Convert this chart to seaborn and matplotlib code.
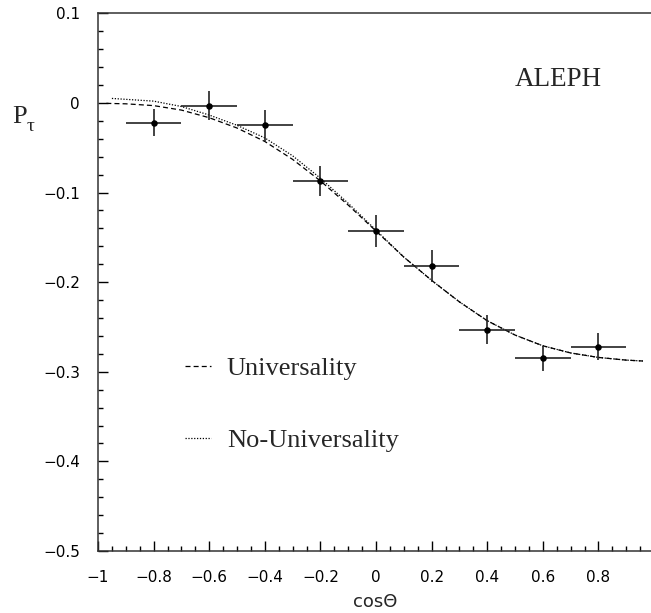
import numpy as np
import pandas as pd
import matplotlib
matplotlib.use("Agg")
import matplotlib.pyplot as plt
import seaborn as sns
from matplotlib.ticker import FixedLocator, MultipleLocator, FixedFormatter

# ---- data ----
cos_bins = [-0.8, -0.6, -0.4, -0.2, 0.0, 0.2, 0.4, 0.6, 0.8]
p_tau = [-0.022, -0.003, -0.025, -0.087, -0.143, -0.182, -0.253, -0.285, -0.272]
p_err = [0.015, 0.016, 0.017, 0.017, 0.018, 0.018, 0.016, 0.014, 0.015]
x_halfwidth = [0.1] * 9

univ_x = [-0.97, -0.9, -0.8, -0.7, -0.6, -0.5, -0.4, -0.3, -0.2, -0.1, 0.0,
          0.1, 0.2, 0.3, 0.4, 0.5, 0.6, 0.7, 0.8, 0.9, 0.96]
univ_y = [-0.0005, -0.001, -0.003, -0.008, -0.0165, -0.028, -0.043, -0.063,
          -0.087, -0.114, -0.143, -0.172, -0.198, -0.222, -0.243, -0.259,
          -0.271, -0.279, -0.284, -0.287, -0.288]
nouniv_x = [-0.95, -0.9, -0.8, -0.7, -0.6, -0.5, -0.4, -0.3, -0.2, -0.1, 0.0,
            0.1, 0.2, 0.3, 0.4, 0.5, 0.6, 0.7, 0.8, 0.9, 0.96]
nouniv_y = [0.005, 0.004, 0.002, -0.004, -0.0135, -0.025, -0.039, -0.059,
            -0.084, -0.112, -0.142, -0.172, -0.198, -0.222, -0.243, -0.259,
            -0.271, -0.279, -0.284, -0.287, -0.288]

x_ticks = [-1, -0.8, -0.6, -0.4, -0.2, 0, 0.2, 0.4, 0.6, 0.8]
x_ticklabels = ["\u22121", "\u22120.8", "\u22120.6", "\u22120.4", "\u22120.2",
                "0", "0.2", "0.4", "0.6", "0.8"]
y_ticks = [-0.5, -0.4, -0.3, -0.2, -0.1, 0, 0.1]
y_ticklabels = ["\u22120.5", "\u22120.4", "\u22120.3", "\u22120.2", "\u22120.1",
                "0", "0.1"]

# ---- style ----
sns.set_style("ticks")
plt.rcParams["font.family"] = ["DejaVu Sans"]

fig = plt.figure(figsize=(6.51, 6.13), dpi=100)
ax = fig.add_axes([98 / 651, 62 / 613, 556 / 651, 537.7 / 613])

curves = pd.concat([
    pd.DataFrame({"x": univ_x, "y": univ_y, "model": "Universality"}),
    pd.DataFrame({"x": nouniv_x, "y": nouniv_y, "model": "No-Universality"}),
])
sns.lineplot(data=curves[curves.model == "Universality"], x="x", y="y",
             color="black", lw=0.9, ax=ax, label="Universality",
             linestyle=(0, (4, 2.5)), sort=False)
sns.lineplot(data=curves[curves.model == "No-Universality"], x="x", y="y",
             color="black", lw=0.9, ax=ax, label="No-Universality",
             linestyle=(0, (1, 1.3)), sort=False)

ax.errorbar(cos_bins, p_tau, xerr=x_halfwidth, yerr=p_err, fmt="none",
            ecolor="#222222", elinewidth=1.2, capsize=0, zorder=3)
sns.scatterplot(x=cos_bins, y=p_tau, color="black", s=22, edgecolor="black",
                linewidth=0, ax=ax, zorder=4)

ax.set_xlim(-1, 1)
ax.set_ylim(-0.5, 0.1)

ax.xaxis.set_major_locator(FixedLocator(x_ticks))
ax.xaxis.set_major_formatter(FixedFormatter(x_ticklabels))
ax.xaxis.set_minor_locator(MultipleLocator(0.05))
ax.yaxis.set_major_locator(FixedLocator(y_ticks))
ax.yaxis.set_major_formatter(FixedFormatter(y_ticklabels))
ax.yaxis.set_minor_locator(MultipleLocator(0.02))

ax.tick_params(which="both", direction="in", top=False, right=False,
               colors="black", width=1.0)
ax.tick_params(which="major", length=7, labelsize=11)
ax.tick_params(axis="x", which="major", pad=14)
ax.tick_params(axis="y", which="major", pad=13)
ax.tick_params(which="minor", length=3.6)

for side in ["left", "bottom", "top", "right"]:
    ax.spines[side].set_visible(True)
    ax.spines[side].set_color("#333333")
    ax.spines[side].set_linewidth(1.1)

ax.set_xlabel("cos\u0398", fontsize=13)
ax.xaxis.set_label_coords(0.499, -0.078)
ax.set_ylabel("P", fontsize=19, rotation=0, family="Liberation Serif",
              ha="left", va="baseline")
ax.yaxis.set_label_coords(-0.155, 0.796)
ax.text(-0.128, 0.781, "\u03c4", transform=ax.transAxes, fontsize=14,
        family="Liberation Serif", ha="left", va="baseline")

ax.text(0.75, 0.865, "ALEPH", transform=ax.transAxes, fontsize=19.5,
        family="Liberation Serif", ha="left", va="baseline")

leg = ax.legend(loc="upper left", bbox_to_anchor=(0.156, 0.362),
                frameon=False, prop={"family": "Liberation Serif", "size": 19},
                handlelength=1.0, handletextpad=0.6, labelspacing=1.85,
                borderpad=0, borderaxespad=0)

fig.savefig("out.png", dpi=100)
